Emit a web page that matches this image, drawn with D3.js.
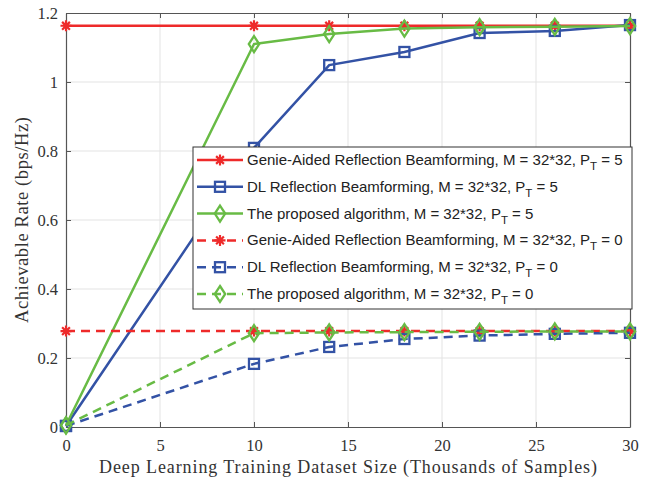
<!DOCTYPE html>
<html>
<head>
<meta charset="utf-8">
<script src="https://cdn.jsdelivr.net/npm/d3@7"></script>
<style>
  html, body { margin: 0; padding: 0; background: #fff; }
  svg { display: block; }
</style>
</head>
<body>
<svg id="chart" width="666" height="482"></svg>
<script>
// Training set size (thousands of samples)
const sampleSizes = [0, 10, 14, 18, 22, 26, 30];

// Achievable rate (bps/Hz), P_T = 5
const genieP5 = [1.163, 1.163, 1.163, 1.163, 1.163, 1.163, 1.163];
const dlP5 = [0.003, 0.809, 1.049, 1.087, 1.142, 1.148, 1.165];
const proposedP5 = [0.005, 1.110, 1.139, 1.155, 1.159, 1.160, 1.162];

// Achievable rate (bps/Hz), P_T = 0
const genieP0 = [0.278, 0.278, 0.278, 0.278, 0.278, 0.278, 0.278];
const dlP0 = [0.003, 0.183, 0.232, 0.255, 0.265, 0.270, 0.273];
const proposedP0 = [0.005, 0.272, 0.274, 0.275, 0.276, 0.277, 0.277];

const xTicks = [0, 5, 10, 15, 20, 25, 30];
const yTicks = [0, 0.2, 0.4, 0.6, 0.8, 1, 1.2];

const seriesNames = [
  "Genie-Aided Reflection Beamforming, M = 32*32, P",
  "DL Reflection Beamforming, M = 32*32, P",
  "The proposed algorithm, M = 32*32, P",
  "Genie-Aided Reflection Beamforming, M = 32*32, P",
  "DL Reflection Beamforming, M = 32*32, P",
  "The proposed algorithm, M = 32*32, P"
];
const seriesPower = ["5", "5", "5", "0", "0", "0"];

const RED = "#ee2a2a", BLUE = "#3352a5", GREEN = "#68bb45";
const series = [
  { values: genieP5, color: RED, marker: "star", dashed: false },
  { values: dlP5, color: BLUE, marker: "square", dashed: false },
  { values: proposedP5, color: GREEN, marker: "diamond", dashed: false },
  { values: genieP0, color: RED, marker: "star", dashed: true },
  { values: dlP0, color: BLUE, marker: "square", dashed: true },
  { values: proposedP0, color: GREEN, marker: "diamond", dashed: true }
].map((s, i) => ({ ...s, name: seriesNames[i], power: seriesPower[i] }));

const svg = d3.select("#chart");
const margin = { left: 66, right: 36, top: 13, bottom: 55 };
const W = 666, H = 482;
const plotW = W - margin.left - margin.right;
const plotH = H - margin.top - margin.bottom;

const x = d3.scaleLinear().domain([0, 30]).range([margin.left, margin.left + plotW]);
const y = d3.scaleLinear().domain([0, 1.2]).range([margin.top + plotH, margin.top]);

const AXIS = "#555";
const serif = "'Liberation Serif', 'Times New Roman', serif";
const sans = "'Liberation Sans', Arial, Helvetica, sans-serif";

// grid
const grid = svg.append("g");
grid.selectAll("line.gx").data(xTicks.slice(1, -1)).join("line")
  .attr("x1", d => x(d)).attr("x2", d => x(d))
  .attr("y1", y(0)).attr("y2", y(1.2))
  .attr("stroke", "#e3e3e3").attr("stroke-width", 1);
grid.selectAll("line.gy").data(yTicks.slice(1, -1)).join("line")
  .attr("y1", d => y(d)).attr("y2", d => y(d))
  .attr("x1", x(0)).attr("x2", x(30))
  .attr("stroke", "#e3e3e3").attr("stroke-width", 1);

// axes with inward ticks, box on all sides
const fmt = d => d3.format("~g")(d);
const axB = svg.append("g").attr("transform", `translate(0,${y(0)})`)
  .call(d3.axisBottom(x).tickValues(xTicks).tickFormat(fmt).tickSizeInner(-5).tickSizeOuter(0).tickPadding(12));
const axT = svg.append("g").attr("transform", `translate(0,${y(1.2)})`)
  .call(d3.axisTop(x).tickValues(xTicks).tickFormat("").tickSizeInner(-5).tickSizeOuter(0));
const axL = svg.append("g").attr("transform", `translate(${x(0)},0)`)
  .call(d3.axisLeft(y).tickValues(yTicks).tickFormat(fmt).tickSizeInner(-5).tickSizeOuter(0).tickPadding(8));
const axR = svg.append("g").attr("transform", `translate(${x(30)},0)`)
  .call(d3.axisRight(y).tickValues(yTicks).tickFormat("").tickSizeInner(-5).tickSizeOuter(0));
[axB, axT, axL, axR].forEach(a => {
  a.select(".domain").attr("stroke", AXIS).attr("stroke-width", 1.2);
  a.selectAll(".tick line").attr("stroke", AXIS).attr("stroke-width", 1);
  a.selectAll("text").attr("fill", "#333").style("font-family", serif).style("font-size", "16.5px");
});

// axis labels
svg.append("text")
  .attr("x", x(15)).attr("y", 473)
  .attr("text-anchor", "middle")
  .attr("textLength", 498).attr("lengthAdjust", "spacing")
  .style("font-family", serif).style("font-size", "18px").attr("fill", "#333")
  .text("Deep Learning Training Dataset Size (Thousands of Samples)");
svg.append("text")
  .attr("transform", `translate(28,${y(0.6)}) rotate(-90)`)
  .attr("text-anchor", "middle")
  .attr("textLength", 206).attr("lengthAdjust", "spacing")
  .style("font-family", serif).style("font-size", "18.5px").attr("fill", "#333")
  .text("Achievable Rate (bps/Hz)");

// marker drawing
function drawMarker(g, type, color) {
  if (type === "star") {
    const r = 5.5, d = r * 0.7071;
    g.append("path")
      .attr("d", `M${-r},0L${r},0M0,${-r}L0,${r}M${-d},${-d}L${d},${d}M${-d},${d}L${d},${-d}`)
      .attr("stroke", color).attr("stroke-width", 2.2).attr("fill", "none");
  } else if (type === "square") {
    g.append("rect").attr("x", -5).attr("y", -5).attr("width", 10).attr("height", 10)
      .attr("stroke", color).attr("stroke-width", 2.3).attr("fill", "none");
  } else {
    const r = 8;
    g.append("path").attr("d", `M0,${-r}L${r * 0.65},0L0,${r}L${-r * 0.65},0Z`)
      .attr("stroke", color).attr("stroke-width", 2.3).attr("fill", "none");
  }
}

const line = d3.line().x(d => x(d[0])).y(d => y(d[1]));
const plot = svg.append("g");
series.forEach(s => {
  const pts = sampleSizes.map((v, i) => [v, s.values[i]]);
  const g = plot.append("g");
  g.append("path").attr("d", line(pts))
    .attr("fill", "none").attr("stroke", s.color).attr("stroke-width", 2.5)
    .attr("stroke-dasharray", s.dashed ? "9,6" : null);
  pts.forEach(p => {
    drawMarker(g.append("g").attr("transform", `translate(${x(p[0])},${y(p[1])})`), s.marker, s.color);
  });
});

// legend
const lg = svg.append("g");
const lx = 193, ly = 147, lw = 439, lh = 162, rowH = 26.8, firstRow = 160;
lg.append("rect").attr("x", lx).attr("y", ly).attr("width", lw).attr("height", lh)
  .attr("fill", "#fff").attr("stroke", "#333").attr("stroke-width", 1);
series.forEach((s, i) => {
  const cy = firstRow + i * rowH;
  lg.append("line").attr("x1", 197).attr("x2", 243).attr("y1", cy).attr("y2", cy)
    .attr("stroke", s.color).attr("stroke-width", 2.5)
    .attr("stroke-dasharray", s.dashed ? "9,6" : null);
  drawMarker(lg.append("g").attr("transform", `translate(220,${cy})`), s.marker, s.color);
  const t = lg.append("text").attr("x", 247).attr("y", cy + 5)
    .style("font-family", sans).style("font-size", "15px").attr("fill", "#222");
  t.append("tspan").text(s.name);
  t.append("tspan").attr("dy", 5).style("font-size", "11.5px").text("T");
  t.append("tspan").attr("dy", -5).text(" = " + s.power);
});
</script>
</body>
</html>
